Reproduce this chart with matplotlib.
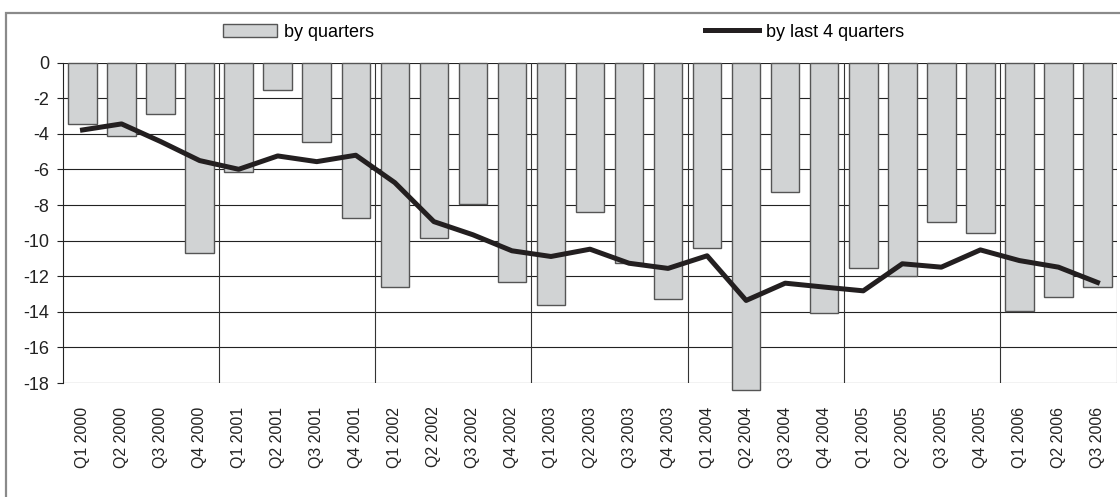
import numpy as np
import matplotlib.pyplot as plt
from matplotlib.patches import Rectangle

plt.rcParams['font.family'] = ['Liberation Sans', 'DejaVu Sans']

quarters = ['Q1 2000', 'Q2 2000', 'Q3 2000', 'Q4 2000',
            'Q1 2001', 'Q2 2001', 'Q3 2001', 'Q4 2001',
            'Q1 2002', 'Q2 2002', 'Q3 2002', 'Q4 2002',
            'Q1 2003', 'Q2 2003', 'Q3 2003', 'Q4 2003',
            'Q1 2004', 'Q2 2004', 'Q3 2004', 'Q4 2004',
            'Q1 2005', 'Q2 2005', 'Q3 2005', 'Q4 2005',
            'Q1 2006', 'Q2 2006', 'Q3 2006']

# квартальные значения (столбцы)
by_quarters = [-3.45, -4.12, -2.88, -10.7,
               -6.15, -1.53, -4.47, -8.7,
               -12.61, -9.83, -7.93, -12.3,
               -13.64, -8.37, -11.27, -13.29,
               -10.39, -18.38, -7.26, -14.07,
               -11.51, -11.98, -8.94, -9.58,
               -13.98, -13.17, -12.61]

# скользящая сумма за 4 квартала (линия)
by_last4 = [-3.78, -3.44, -4.43, -5.5,
            -5.99, -5.24, -5.56, -5.2,
            -6.74, -8.93, -9.67, -10.57,
            -10.89, -10.48, -11.27, -11.56,
            -10.85, -13.36, -12.39, -12.61,
            -12.82, -11.3, -11.49, -10.52,
            -11.12, -11.49, -12.35]

x = np.arange(len(quarters))

fig = plt.figure(figsize=(11.2, 4.97), dpi=100)
ax = fig.add_axes([63 / 1120, 1 - 383 / 497, (1117 - 63) / 1120, (383 - 62.7) / 497])

# горизонтальная сетка
for yv in np.arange(-18, 1, 2):
    ax.axhline(yv, color='#222222', lw=0.8, zorder=1)
# вертикальные линии между годами
for xv in np.arange(3.5, len(quarters), 4):
    ax.axvline(xv, color='#333333', lw=0.8, zorder=1)
ax.axvline(len(quarters) - 0.5, color='#333333', lw=0.8, zorder=1)

bars = ax.bar(x, by_quarters, width=0.73, color='#d1d3d4', edgecolor='#555555',
              linewidth=1.0, zorder=2, label='by quarters', clip_on=False)
line, = ax.plot(x, by_last4, color='#231f20', lw=3.6, zorder=3, label='by last 4 quarters')

ax.set_xlim(-0.5, len(quarters) - 0.5)
ax.set_ylim(-18, 0)
ax.set_yticks(np.arange(-18, 1, 2))
ax.set_yticklabels([str(v) for v in np.arange(-18, 1, 2)], fontsize=13, color='#222222')
ax.set_xticks(x)
ax.set_xticklabels(quarters, rotation=90, fontsize=11.5, color='#222222')
ax.tick_params(axis='x', length=0, pad=17)
ax.tick_params(axis='y', length=4, width=0.8, color='#222222', pad=6)
for s in ['top', 'right', 'bottom']:
    ax.spines[s].set_visible(False)
ax.spines['left'].set_color('#222222')
ax.spines['left'].set_linewidth(0.8)

fig.legend(handles=[bars, line], loc='center', bbox_to_anchor=(0.503, 0.935), ncol=2,
           frameon=False, fontsize=13, handlelength=3.0, handleheight=0.75,
           handletextpad=0.4, columnspacing=18.3)

# внешняя рамка
fig.patches.append(Rectangle((5.7 / 1120, -0.2), 1.2, 1.2 - 13.3 / 497,
                             transform=fig.transFigure, fill=False,
                             edgecolor='#8a8a8a', lw=1.6))

fig.savefig('out.png', dpi=100)
